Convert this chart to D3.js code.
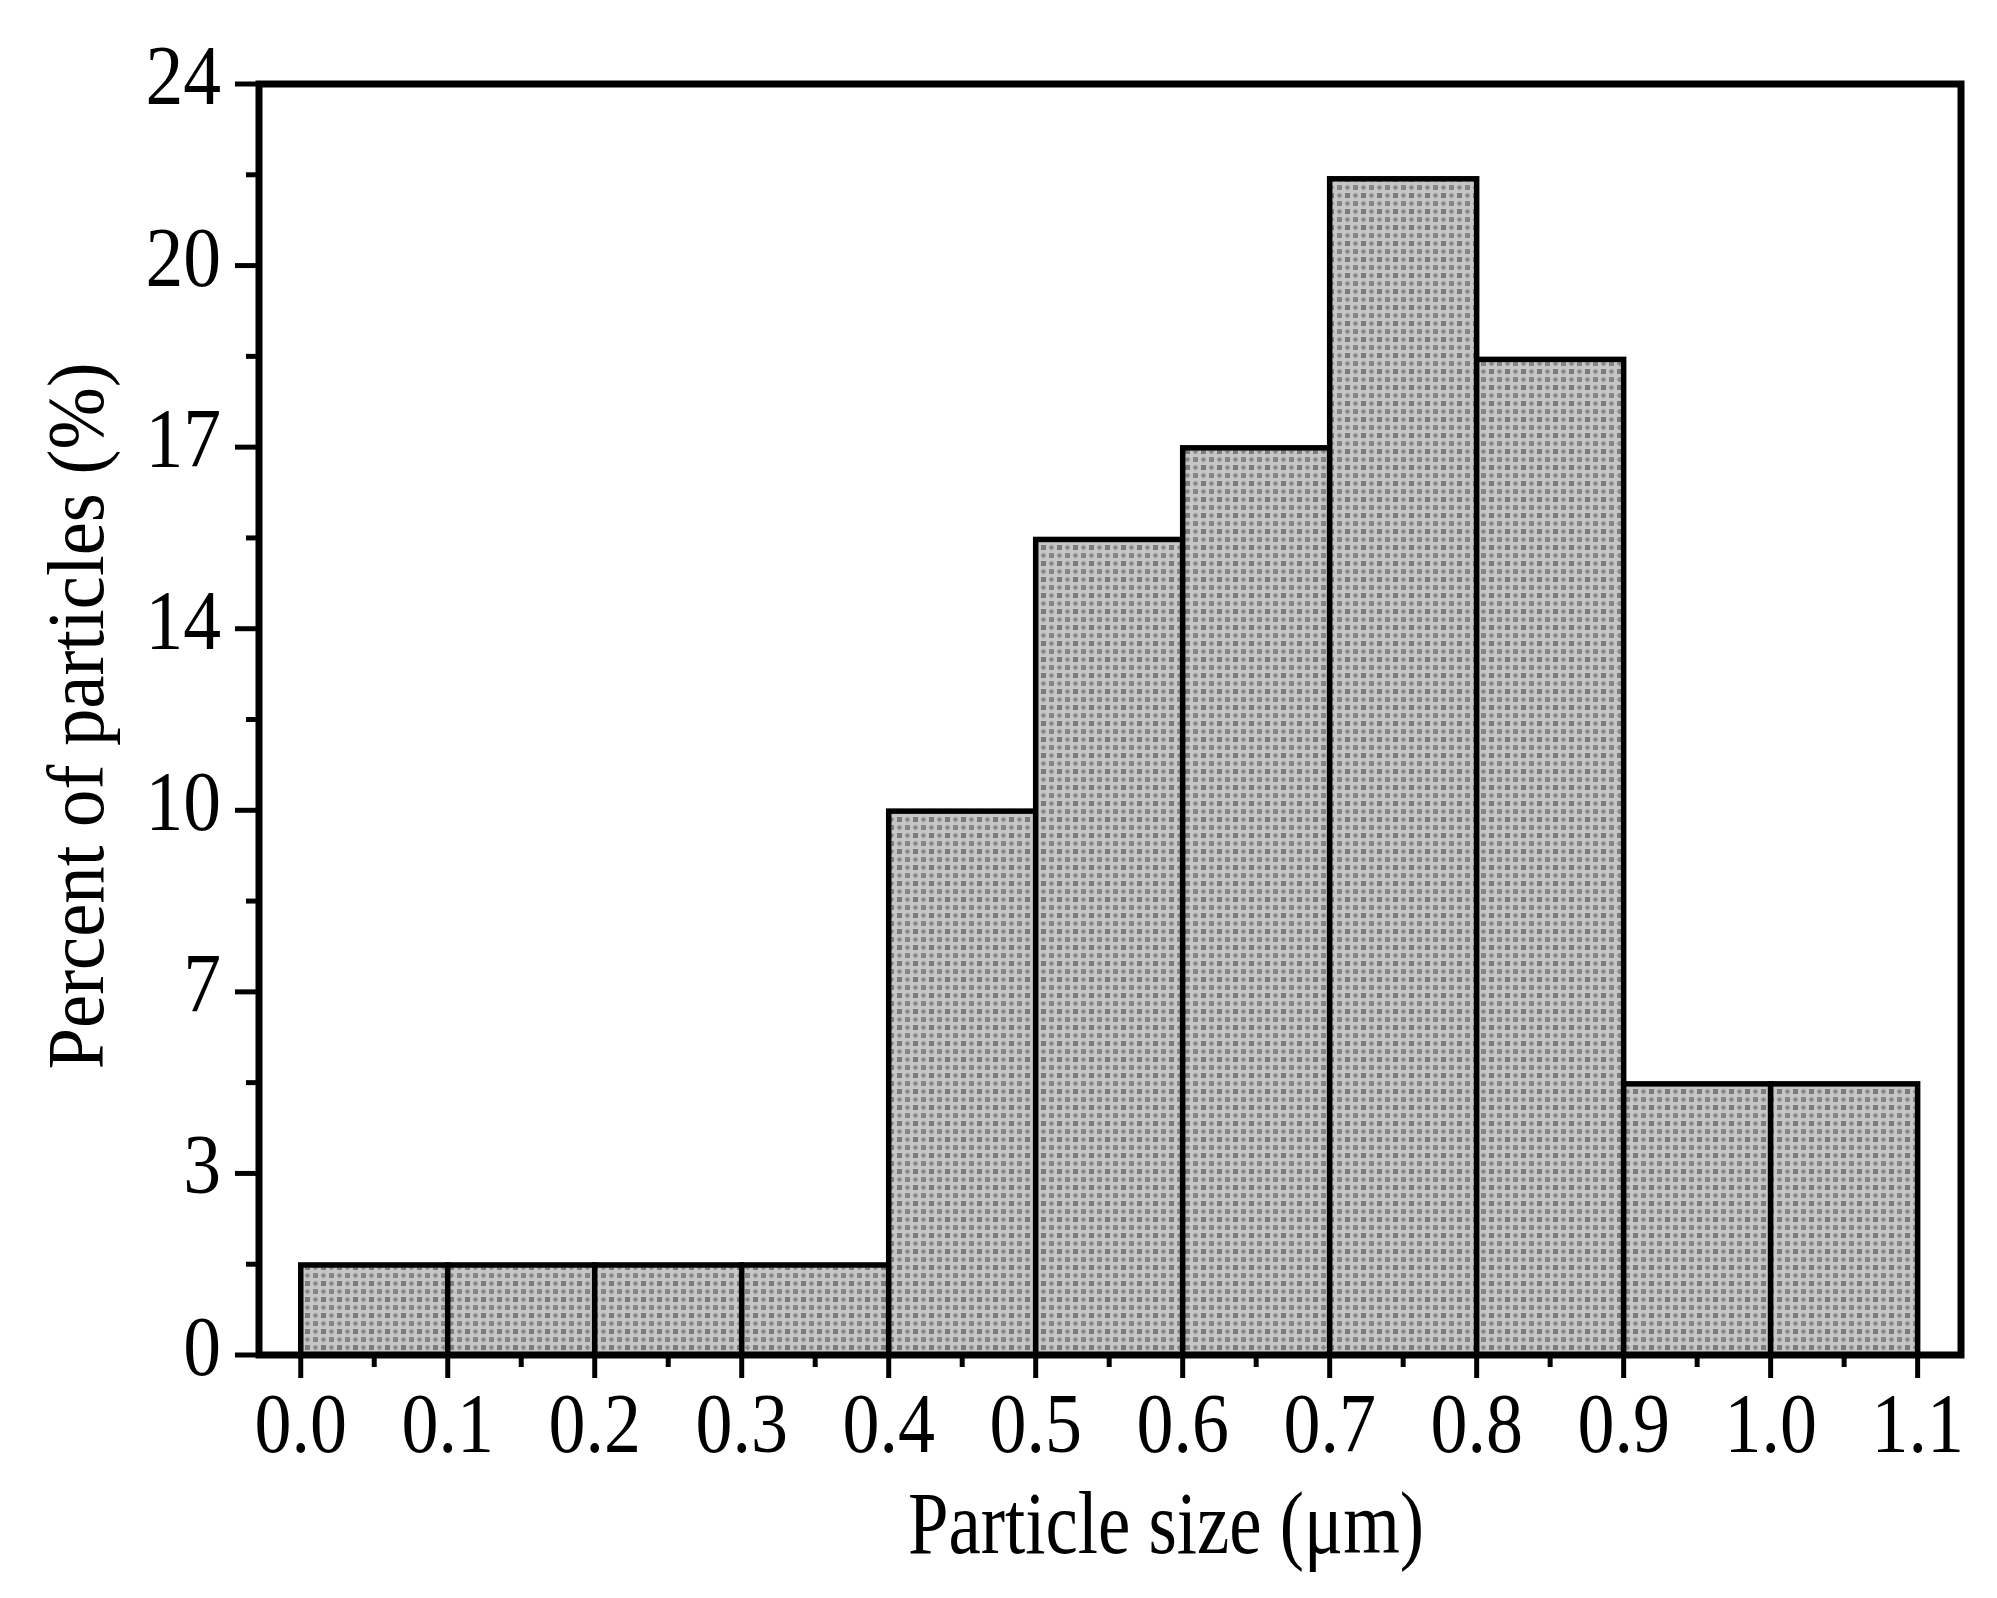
<!DOCTYPE html>
<html>
<head>
<meta charset="utf-8">
<script src="https://cdn.jsdelivr.net/npm/d3@7"></script>
<style>
  html, body { margin: 0; padding: 0; background: #ffffff; }
  svg { display: block; }
</style>
</head>
<body>
<script>
// ---- data ----
const binStart = [0.0, 0.1, 0.2, 0.3, 0.4, 0.5, 0.6, 0.7, 0.8, 0.9, 1.0];
const binEnd   = [0.1, 0.2, 0.3, 0.4, 0.5, 0.6, 0.7, 0.8, 0.9, 1.0, 1.1];
const percent  = [1.7, 1.7, 1.7, 1.7, 10.27, 15.4, 17.13, 22.21, 18.8, 5.12, 5.12];
const xTickValues = [0.0, 0.1, 0.2, 0.3, 0.4, 0.5, 0.6, 0.7, 0.8, 0.9, 1.0, 1.1];
const xTickLabels = ["0.0", "0.1", "0.2", "0.3", "0.4", "0.5", "0.6", "0.7", "0.8", "0.9", "1.0", "1.1"];
const yTickLabels = ["0", "3", "7", "10", "14", "17", "20", "24"];
const xLabel = "Particle size (\u03bcm)";
const yLabel = "Percent of particles (%)";

const W = 1997, H = 1598;
const svg = d3.select("body").append("svg").attr("width", W).attr("height", H);

const pLeft = 259, pRight = 1961, pTop = 84, pBottom = 1355;
const x = d3.scaleLinear().domain([-0.0284, 1.1295]).range([pLeft, pRight]);
const y = d3.scaleLinear().domain([0, 24]).range([pBottom, pTop]);

// pattern fill
const defs = svg.append("defs");
const T = 16;
const pat = defs.append("pattern").attr("id", "dots").attr("patternUnits", "userSpaceOnUse")
  .attr("width", T).attr("height", T);
pat.append("rect").attr("width", T).attr("height", T).attr("fill", "#c6c6c6");
pat.append("rect").attr("x", 1).attr("y", 1).attr("width", 5).attr("height", 5).attr("fill", "#7c7c7c");
pat.append("rect").attr("x", 9).attr("y", 9).attr("width", 5).attr("height", 5).attr("fill", "#858585");
[[11.5, 3.5], [3.5, 11.5]].forEach(([cx, cy]) => {
  pat.append("rect").attr("x", cx - 2.5).attr("y", cy - 1).attr("width", 5).attr("height", 2).attr("fill", "#878787");
  pat.append("rect").attr("x", cx - 1).attr("y", cy - 2.5).attr("width", 2).attr("height", 5).attr("fill", "#878787");
});

// bars
const bars = binStart.map((s, i) => ({ s, e: binEnd[i], v: percent[i] }));
svg.append("g").selectAll("rect").data(bars).join("rect")
  .attr("x", d => x(d.s))
  .attr("y", d => y(d.v))
  .attr("width", d => x(d.e) - x(d.s))
  .attr("height", d => y(0) - y(d.v))
  .attr("fill", "url(#dots)")
  .attr("stroke", "#000")
  .attr("stroke-width", 5.5);

// frame
svg.append("rect").attr("x", pLeft).attr("y", pTop).attr("width", pRight - pLeft).attr("height", pBottom - pTop)
  .attr("fill", "none").attr("stroke", "#000").attr("stroke-width", 7);

// y ticks
const yMajor = yTickLabels.map((l, i) => 24 / 7 * i);
const yMinor = d3.range(7).map(i => 24 / 7 * (i + 0.5));
const gy = svg.append("g");
gy.selectAll("line.maj").data(yMajor).join("line").attr("class", "maj")
  .attr("x1", pLeft - 24).attr("x2", pLeft).attr("y1", d => y(d)).attr("y2", d => y(d))
  .attr("stroke", "#000").attr("stroke-width", 5);
gy.selectAll("line.min").data(yMinor).join("line").attr("class", "min")
  .attr("x1", pLeft - 13).attr("x2", pLeft).attr("y1", d => y(d)).attr("y2", d => y(d))
  .attr("stroke", "#000").attr("stroke-width", 5);
gy.selectAll("text").data(yMajor).join("text")
  .attr("transform", d => `translate(221,${y(d) + 20}) scale(0.9,1)`)
  .attr("text-anchor", "end")
  .attr("font-family", "'Liberation Serif', 'Times New Roman', serif")
  .attr("font-size", 84)
  .text((d, i) => yTickLabels[i]);

// x ticks
const xMinor = d3.range(11).map(i => 0.1 * i + 0.05);
const gx = svg.append("g");
gx.selectAll("line.maj").data(xTickValues).join("line").attr("class", "maj")
  .attr("x1", d => x(d)).attr("x2", d => x(d)).attr("y1", pBottom).attr("y2", pBottom + 23)
  .attr("stroke", "#000").attr("stroke-width", 5);
gx.selectAll("line.min").data(xMinor).join("line").attr("class", "min")
  .attr("x1", d => x(d)).attr("x2", d => x(d)).attr("y1", pBottom).attr("y2", pBottom + 12)
  .attr("stroke", "#000").attr("stroke-width", 5);
gx.selectAll("text").data(xTickValues).join("text")
  .attr("transform", d => `translate(${x(d)},1452) scale(0.88,1)`)
  .attr("text-anchor", "middle")
  .attr("font-family", "'Liberation Serif', 'Times New Roman', serif")
  .attr("font-size", 84)
  .text((d, i) => xTickLabels[i]);

// axis labels
svg.append("text")
  .attr("x", 1166).attr("y", 1553)
  .attr("text-anchor", "middle")
  .attr("font-family", "'Liberation Serif', 'Times New Roman', serif")
  .attr("font-size", 88)
  .attr("textLength", 516).attr("lengthAdjust", "spacingAndGlyphs")
  .text(xLabel);

svg.append("text")
  .attr("transform", "translate(103,716) rotate(-90)")
  .attr("text-anchor", "middle")
  .attr("font-family", "'Liberation Serif', 'Times New Roman', serif")
  .attr("font-size", 80)
  .attr("textLength", 707).attr("lengthAdjust", "spacingAndGlyphs")
  .text(yLabel);
</script>
</body>
</html>
